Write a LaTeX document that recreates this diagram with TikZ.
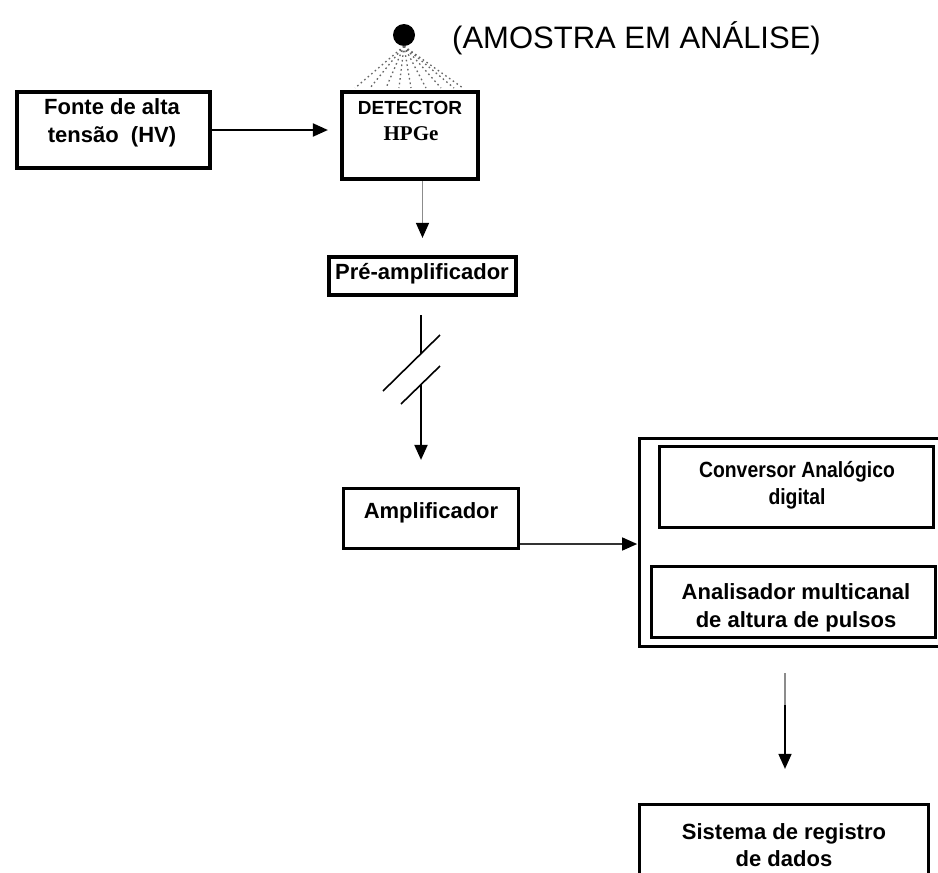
\documentclass[tikz,border=0pt]{standalone}
\usepackage{fontspec}
\setmainfont{Liberation Sans}
\newfontfamily\hpgefont{Liberation Serif}
\newfontfamily\narrowsans[FakeStretch=0.88]{Liberation Sans}
\usetikzlibrary{arrows.meta}

\begin{document}
\begin{tikzpicture}[x=1pt,y=-1pt,
  blk/.style={draw=black, rectangle, inner sep=0pt},
  heavy/.style={line width=4.2pt},
  medium/.style={line width=3.2pt},
  lbl/.style={inner sep=0pt, align=center, font=\fontsize{22}{27.5}\selectfont\bfseries},
  conn/.style={line width=2pt, black},
  faint/.style={line width=1.4pt, black!45},
  tipA/.style={-{Triangle[length=15pt,width=13pt,color=black]}},
  ray/.style={black!60, line width=1.3pt, dash pattern=on 1.6pt off 3pt}
]
\useasboundingbox (0,0) rectangle (938,873);
\clip (0,0) rectangle (938,873);
\fill[white] (0,0) rectangle (938,873);

% sample under analysis and its radiation
\node[circle, fill=black, minimum size=22pt, inner sep=0pt] (amostra) at (404,35) {};
\node[anchor=west, inner sep=0pt, font=\fontsize{31}{36}\selectfont] (amostratxt) at (452,38) {(AMOSTRA EM ANÁLISE)};

% boxes
\node[blk, heavy, minimum width=193pt, minimum height=76pt] (fonte) at (113.5,130) {};
\node[lbl] (fontetxt) at (112,123) {Fonte de alta\\tensão\ \ (HV)};

\node[blk, heavy, minimum width=136pt, minimum height=87pt] (det) at (410,135.5) {};
\node[inner sep=0pt, font=\fontsize{19}{22}\selectfont\bfseries] (dettxt) at (410,108) {DETECTOR};
\node[inner sep=0pt, font=\fontsize{21}{24}\selectfont\hpgefont\bfseries] (hpge) at (411,134) {HPGe};

\node[blk, heavy, minimum width=187pt, minimum height=38pt] (pre) at (422.5,276) {};
\node[lbl] (pretxt) at (422,274) {Pré-amplificador};

\node[blk, medium, minimum width=175pt, minimum height=60pt] (amp) at (431,518.5) {};
\node[lbl] (amptxt) at (431,513) {Amplificador};

\node[blk, medium, minimum width=320pt, minimum height=208pt] (mca) at (799.75,542.5) {};
\node[blk, medium, minimum width=274pt, minimum height=81pt] (adc) at (796.5,487) {};
\node[lbl, font=\fontsize{22}{27}\selectfont\narrowsans\bfseries] (adctxt) at (797,485) {Conversor Analógico\\digital};
\node[blk, medium, minimum width=284pt, minimum height=71pt] (ana) at (793.5,602) {};
\node[lbl] (anatxt) at (796,608) {Analisador multicanal\\de altura de pulsos};

\node[blk, medium, minimum width=289pt, minimum height=96pt] (sis) at (784,852.5) {};
\node[lbl] (sistxt) at (784,845) {Sistema de registro\\de dados};

% radiation rays from the sample to the detector
\foreach \xx in {355,370,386,399,411,426,441,454,463}
  \draw[ray] (amostra.south) -- (\xx,88);

% high voltage to detector
\draw[conn, tipA, shorten >=12pt] (fonte.east) -- (fonte.east -| det.west);

% detector to pre-amplifier
\draw[faint, tipA, shorten >=17pt] (det.south -| pre.north) -- (pre.north);

% pre-amplifier to amplifier, with cable break symbol
\coordinate (brkA) at (421,353.7);
\coordinate (brkB) at (421,384.5);
\draw[conn, shorten <=18pt] (pre.south -| brkA) -- (brkA);
\draw[conn, line width=1.6pt] (383,391) -- (440,335);
\draw[conn, line width=1.6pt] (401,404) -- (440,366);
\draw[conn, tipA, shorten >=27pt] (brkB) -- (brkB |- amp.north);

% amplifier to ADC / MCA unit
\coordinate (ampout) at (520,544);
\draw[line width=1.5pt, black!80, tipA, shorten >=1pt] (ampout) -- (ampout -| mca.west);

% MCA unit to data recording system
\coordinate (mcaout) at (785,673);
\coordinate (mcamid) at (785,705);
\draw[faint, line width=1.2pt] (mcaout) -- (mcamid);
\draw[conn, line width=1.6pt, tipA, shorten >=34pt] (mcamid) -- (mcamid |- sis.north);
\end{tikzpicture}
\end{document}
